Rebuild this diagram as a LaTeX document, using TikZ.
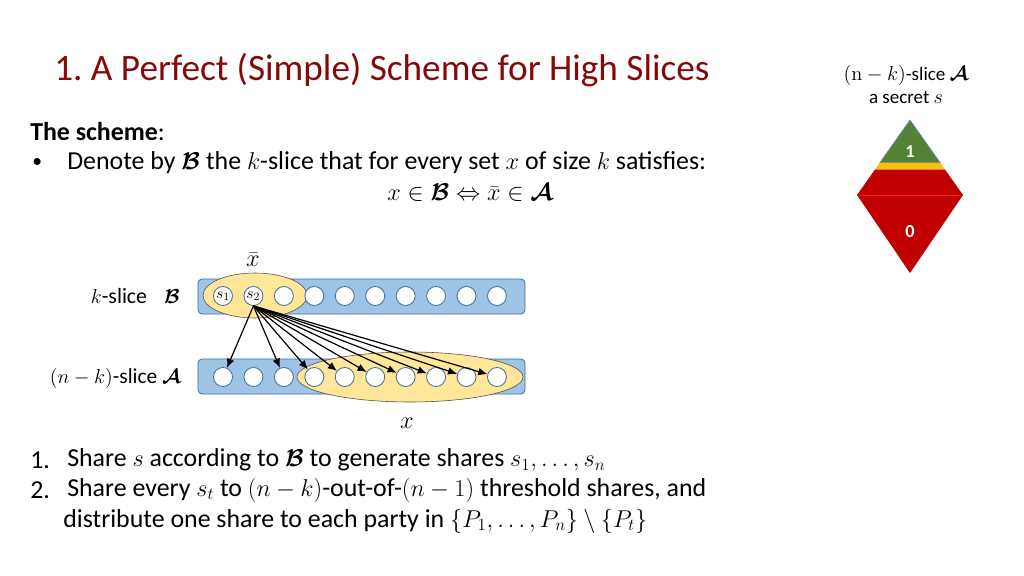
\documentclass[tikz,border=0pt]{standalone}
\usepackage[no-math]{fontspec}
\setmainfont{Carlito}
\usepackage{amsmath,bm}
\usetikzlibrary{arrows.meta, positioning, shapes.geometric}
\frenchspacing

\definecolor{titlered}{RGB}{132,10,10}
\definecolor{barblue}{RGB}{157,195,230}
\definecolor{baredge}{RGB}{65,113,156}
\definecolor{setyellow}{RGB}{255,230,153}
\definecolor{slicered}{RGB}{192,0,0}
\definecolor{slicegreen}{RGB}{84,130,53}
\definecolor{sliceamber}{RGB}{255,192,0}

\newcommand{\slB}{\boldsymbol{\mathcal{B}}}
\newcommand{\slA}{\boldsymbol{\mathcal{A}}}

\tikzset{
  body/.style={anchor=west, inner sep=0pt, font=\fontsize{18.4}{22}\selectfont},
  small/.style={inner sep=0pt, font=\fontsize{13.5}{16}\selectfont},
  bar/.style={draw=baredge, fill=barblue, rounded corners=3pt, line width=0.6pt,
    minimum width=8.175cm, minimum height=0.875cm},
  setx/.style={draw=black!70, fill=setyellow, ellipse, line width=0.4pt},
  party/.style={draw=baredge, fill=white, circle, inner sep=0pt, line width=0.6pt,
    minimum size=0.475cm, font=\fontsize{10}{12}\selectfont}
}

\begin{document}
\begin{tikzpicture}[x=0.025cm, y=-0.025cm]
  \useasboundingbox (0,0) rectangle (1024,576);

  \node[anchor=west, inner sep=0pt, text=titlered, font=\fontsize{26.5}{31}\selectfont] (title) at (54,70) {1. A Perfect (Simple) Scheme for High Slices};

  \node[body] (scheme) at (30,132) {\textbf{The scheme}:};
  \node[body, font=\fontsize{14}{16}\selectfont] (bullet) at (32,163) {•};
  \node[body] (denote) at (67,163) {Denote by $\slB$ the $k$-slice that for every set $x$ of size $k$ satisfies:};
  \node[body, anchor=center] (equiv) at (470,193) {$x\in\slB\Leftrightarrow\bar{x}\in\slA$};

  % the two slices
  \node[bar] (barB) at (361.5,296.5) {};
  \node[bar] (barA) at (361.5,376.5) {};
  \node[setx, minimum width=2.6cm, minimum height=1.125cm] (setxbar) at (255,295.5) {};
  \node[setx, minimum width=5.65cm, minimum height=1.25cm] (setxx) at (410,377) {};

  \foreach \i in {1,...,10} {
    \node[party] (b\i) at ({223+(\i-1)*30.44},296) {};
    \node[party] (a\i) at ({223+(\i-1)*30.44},377) {};
  }
  \node[font=\fontsize{11}{13}\selectfont] at (b1) {$s_1$};
  \node[font=\fontsize{11}{13}\selectfont] at (b2) {$s_2$};

  \node[body, anchor=center] (xbar) at (253,260) {$\bar{x}$};
  \node[body, anchor=center] (xlab) at (407,423) {$x$};
  \node[body, anchor=east, font=\fontsize{15.5}{18}\selectfont] (labB) at (180,296) {$k$-slice\;\; $\slB$};
  \node[body, anchor=east, font=\fontsize{15.2}{18}\selectfont] (labA) at (181,378) {$(n-k)$-slice $\slA$};

  \foreach \i in {1,3,4,5,6,7,8,9,10}
    \draw[-{Latex[length=6.5pt,width=5.5pt]}, line width=0.85pt] (b2.south) -- (a\i);

  % the access structure
  \node[small] (sliceA) at (906,75) {$(\mathrm{n}-k)$-slice $\slA$};
  \node[small] (secret) at (906,98) {a secret $s$};
  \fill[slicered] (875.2,169.3) -- (944.8,169.3) -- (963,195) -- (910,273) -- (857,195) -- cycle;
  \fill[sliceamber] (879.8,162.7) -- (940.2,162.7) -- (944.8,169.3) -- (875.2,169.3) -- cycle;
  \filldraw[fill=slicegreen, draw=baredge!80, line width=0.4pt] (910,120) -- (940.2,162.7) -- (879.8,162.7) -- cycle;
  \draw[red!80!orange, line width=0.4pt] (857,195) -- (963,195);
  \node[small, text=white, font=\fontsize{13}{15}\selectfont\bfseries] (one) at (910,152) {1};
  \node[small, text=white, font=\fontsize{13}{15}\selectfont\bfseries] (zero) at (910,232) {0};

  \node[body] (num1) at (30,460) {1.};
  \node[body] (item1) at (67,460) {Share $s$ according to $\slB$ to generate shares $s_1,\ldots,s_n$};
  \node[body] (num2) at (30,490) {2.};
  \node[body] (item2) at (67,490) {Share every $s_t$ to $(n-k)$-out-of-$(n-1)$ threshold shares, and};
  \node[body] (item2b) at (63,521) {distribute one share to each party in $\{P_1,\ldots,P_n\}\setminus\{P_t\}$};
\end{tikzpicture}
\end{document}
